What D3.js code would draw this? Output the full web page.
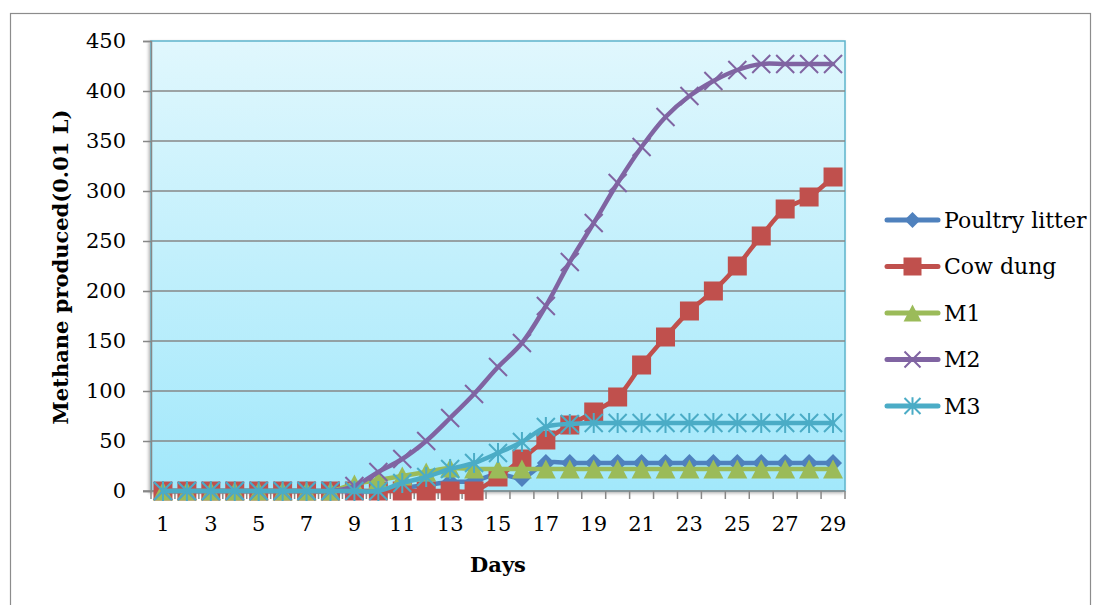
<!DOCTYPE html>
<html>
<head>
<meta charset="utf-8">
<script src="https://cdn.jsdelivr.net/npm/d3@7"></script>
<style>
  html, body { margin: 0; padding: 0; background: #ffffff; }
  svg { display: block; }
  text { font-family: "DejaVu Serif", serif; fill: #000; }
</style>
</head>
<body>
<svg id="chart" width="1103" height="605"></svg>
<script>
// ---- data ----
const days = [1,2,3,4,5,6,7,8,9,10,11,12,13,14,15,16,17,18,19,20,21,22,23,24,25,26,27,28,29];
const xTickLabels = ["1","3","5","7","9","11","13","15","17","19","21","23","25","27","29"];
const yTicks = [0,50,100,150,200,250,300,350,400,450];
const poultryLitter = [0,0,0,0,0,0,0,0,0,0,3,6,9,10,17,13,28,28,28,28,28,28,28,28,28,28,28,28,28];
const cowDung = [0,0,0,0,0,0,0,0,0,0,0,0,0,0,14,32,51,66,79,94,126,154,180,200,225,255,282,294,314];
const m1 = [0,0,0,0,0,0,0,0,7,11,15,19,23,22,22,22,22,22,22,22,22,22,22,22,22,22,22,22,22];
const m2 = [0,0,0,0,0,0,0,0,5,19,32,50,73,97,124,148,185,229,268,308,344,374,395,410,421,427,427,427,427];
const m3 = [0,0,0,0,0,0,0,0,0,0,8,14,22,28,38,49,64,67,68,68,68,68,68,68,68,68,68,68,68];
const seriesNames = ["Poultry litter","Cow dung","M1","M2","M3"];
const seriesColors = ["#4f81bd","#c0504d","#9bbb59","#8064a2","#4bacc6"];
const seriesMarkers = ["diamond","square","triangle","x","asterisk"];
const seriesValues = [poultryLitter, cowDung, m1, m2, m3];

// ---- layout ----
const svg = d3.select("#chart");
const plot = {left: 151, top: 41, right: 845, bottom: 491};

const x = d3.scaleBand().domain(days).range([plot.left, plot.right]).padding(0);
const y = d3.scaleLinear().domain([0, 450]).range([plot.bottom, plot.top]);
const cx = d => x(d) + x.bandwidth() / 2;

// outer frame
svg.append("rect").attr("x", 10.5).attr("y", 13.5).attr("width", 1080).attr("height", 640)
  .attr("fill", "#fff").attr("stroke", "#8c8c8c").attr("stroke-width", 1.2);

// gradient
const defs = svg.append("defs");
const grad = defs.append("linearGradient").attr("id", "bg").attr("x1", 0).attr("y1", 0).attr("x2", 0).attr("y2", 1);
grad.append("stop").attr("offset", "0%").attr("stop-color", "#e0f7fd");
grad.append("stop").attr("offset", "100%").attr("stop-color", "#a2e8fb");
const shadow = defs.append("filter").attr("id", "sh").attr("x", "-5%").attr("y", "-5%").attr("width", "110%").attr("height", "110%");
shadow.append("feDropShadow").attr("dx", -1.5).attr("dy", 1.5).attr("stdDeviation", 1.5).attr("flood-color", "#000").attr("flood-opacity", 0.3);

svg.append("rect")
  .attr("x", plot.left).attr("y", plot.top)
  .attr("width", plot.right - plot.left).attr("height", plot.bottom - plot.top)
  .attr("fill", "url(#bg)").attr("stroke", "#5eb4cb").attr("stroke-width", 1.5)
  .attr("filter", "url(#sh)");

// gridlines
svg.append("g").selectAll("line").data(yTicks.filter(t => t > 0 && t < 450)).join("line")
  .attr("x1", plot.left).attr("x2", plot.right)
  .attr("y1", d => y(d)).attr("y2", d => y(d))
  .attr("stroke", "#878787").attr("stroke-width", 1.5);

// y axis
const yAxis = d3.axisLeft(y).tickValues(yTicks).tickSize(8).tickPadding(17);
const gy = svg.append("g").attr("transform", `translate(${plot.left},0)`).call(yAxis);
gy.select(".domain").attr("stroke", "#878787").attr("stroke-width", 1.5);
gy.selectAll(".tick line").attr("stroke", "#878787").attr("stroke-width", 1.5);
gy.selectAll(".tick text").style("font-family", "DejaVu Serif").style("font-size", "21px").attr("fill", "#000");

// x axis
const xAxis = d3.axisBottom(x).tickSize(0).tickPadding(25)
  .tickFormat(d => xTickLabels.includes(String(d)) ? String(d) : "");
const gx = svg.append("g").attr("transform", `translate(0,${plot.bottom})`).call(xAxis);
gx.select(".domain").remove();
gx.selectAll(".tick text").style("font-family", "DejaVu Serif").style("font-size", "21px").attr("fill", "#000");
svg.append("line").attr("x1", plot.left - 8).attr("x2", plot.right).attr("y1", plot.bottom).attr("y2", plot.bottom)
  .attr("stroke", "#878787").attr("stroke-width", 1.5);
const boundaries = days.map(d => x(d)).concat([plot.right]);
svg.append("g").selectAll("line").data(boundaries).join("line")
  .attr("x1", d => d).attr("x2", d => d).attr("y1", plot.bottom).attr("y2", plot.bottom + 8)
  .attr("stroke", "#878787").attr("stroke-width", 1.5);

// marker drawing
function drawMarker(g, type, color, px, py, s) {
  if (type === "diamond") {
    g.append("path").attr("d", `M${px},${py - s}L${px + s},${py}L${px},${py + s}L${px - s},${py}Z`).attr("fill", color);
  } else if (type === "square") {
    g.append("rect").attr("x", px - s).attr("y", py - s).attr("width", 2 * s).attr("height", 2 * s).attr("fill", color);
  } else if (type === "triangle") {
    g.append("path").attr("d", `M${px},${py - s}L${px + s * 1.05},${py + s}L${px - s * 1.05},${py + s}Z`).attr("fill", color);
  } else if (type === "x") {
    g.append("path").attr("d", `M${px - s},${py - s}L${px + s},${py + s}M${px - s},${py + s}L${px + s},${py - s}`)
      .attr("stroke", color).attr("stroke-width", 2).attr("fill", "none");
  } else if (type === "asterisk") {
    g.append("path").attr("d", `M${px - s},${py - s}L${px + s},${py + s}M${px - s},${py + s}L${px + s},${py - s}M${px},${py - s * 1.1}L${px},${py + s * 1.1}`)
      .attr("stroke", color).attr("stroke-width", 2).attr("fill", "none");
  }
}

// series
const line = d3.line().x(d => cx(d.day)).y(d => y(d.v)).curve(d3.curveCatmullRom.alpha(0.5));
seriesValues.forEach((vals, i) => {
  const data = days.map((d, j) => ({day: d, v: vals[j]}));
  const g = svg.append("g");
  g.append("path").datum(data).attr("d", line)
    .attr("fill", "none").attr("stroke", seriesColors[i]).attr("stroke-width", 4.5)
    .attr("stroke-linejoin", "round").attr("stroke-linecap", "round");
  const size = {diamond: 9, square: 9.5, triangle: 9.5, x: 9, asterisk: 9}[seriesMarkers[i]];
  data.forEach(p => drawMarker(g, seriesMarkers[i], seriesColors[i], cx(p.day), y(p.v), size));
});

// legend
const lg = svg.append("g");
seriesNames.forEach((name, i) => {
  const ly = 220 + i * 46.5;
  lg.append("line").attr("x1", 887).attr("x2", 938).attr("y1", ly).attr("y2", ly)
    .attr("stroke", seriesColors[i]).attr("stroke-width", 5).attr("stroke-linecap", "round");
  const s = {diamond: 8, square: 9, triangle: 8.5, x: 8, asterisk: 8}[seriesMarkers[i]];
  drawMarker(lg, seriesMarkers[i], seriesColors[i], 912.5, ly, s);
  lg.append("text").attr("x", 944).attr("y", ly).attr("dy", "0.36em")
    .style("font-size", "22px").text(name);
});

// axis titles
svg.append("text").attr("x", (plot.left + plot.right) / 2).attr("y", 565).attr("dy", "0.35em")
  .attr("text-anchor", "middle").style("font-size", "21px").style("font-weight", "bold").text("Days");
svg.append("text").attr("transform", "translate(61,267) rotate(-90)").attr("dy", "0.35em")
  .attr("text-anchor", "middle").style("font-size", "21px").style("font-weight", "bold")
  .text("Methane produced(0.01 L)");
</script>
</body>
</html>
